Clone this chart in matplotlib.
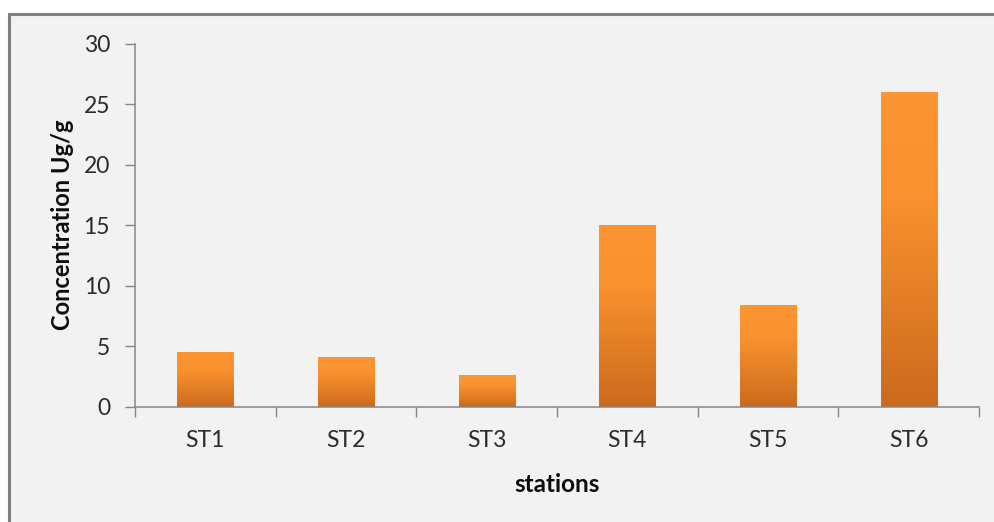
import numpy as np
import matplotlib.pyplot as plt
from matplotlib.colors import LinearSegmentedColormap
from matplotlib.patches import Rectangle

# Station concentrations (Ug/g)
stations = ["ST1", "ST2", "ST3", "ST4", "ST5", "ST6"]
concentration = [4.5, 4.1, 2.6, 15.0, 8.4, 26.0]
y_ticks = [0, 5, 10, 15, 20, 25, 30]

plt.rcParams['font.family'] = ['Lato', 'DejaVu Sans']

fig = plt.figure(figsize=(9.95, 5.22), dpi=100)
fig.patch.set_facecolor('white')

# grey chart-area frame, open to the right and bottom edges
top = 1 - 13.5 / 522
frame = Rectangle((8.5 / 995, -0.1), 1.2, top + 0.1,
                  transform=fig.transFigure, facecolor='#f2f2f2',
                  edgecolor='#7f7f7f', linewidth=2.2, zorder=-5)
fig.patches.append(frame)

ax = fig.add_axes([135 / 995, 1 - 406.5 / 522, (979 - 135) / 995, (406.5 - 44) / 522])
ax.set_facecolor('none')

x = np.arange(len(stations))
bars = ax.bar(x, concentration, width=0.4, color='none', edgecolor='none', zorder=2)

# vertical orange gradient inside each bar: lighter top, darker bottom
cmap = LinearSegmentedColormap.from_list('orange_grad', ['#cb6a1e', '#e27e25', '#f8912e', '#fc9633'])
grad = np.linspace(0, 1, 256).reshape(-1, 1)
for rect in bars:
    x0, w, h = rect.get_x(), rect.get_width(), rect.get_height()
    im = ax.imshow(grad, cmap=cmap, origin='lower', aspect='auto',
                   extent=(x0, x0 + w, 0, h), zorder=2)
    im.set_clip_path(rect)

ax.set_xlim(-0.5, len(stations) - 0.5)
ax.set_ylim(0, 30)
ax.set_yticks(y_ticks)
ax.set_xticks(x)
ax.set_xticklabels(stations)
# category boundary ticks on the x axis
ax.set_xticks(np.arange(len(stations) + 1) - 0.5, minor=True)
ax.tick_params(axis='x', which='major', length=0, pad=17)
ax.tick_params(axis='x', which='minor', length=7, width=1, color='#868686', direction='out')
ax.tick_params(axis='y', length=7, width=1, color='#868686', pad=11)
ax.tick_params(labelsize=16.5, labelcolor='#2b2b2b')

for side in ('top', 'right'):
    ax.spines[side].set_visible(False)
for side in ('left', 'bottom'):
    ax.spines[side].set_color('#868686')
    ax.spines[side].set_linewidth(1.1)

ax.set_xlabel('stations', fontsize=17.5, fontweight='bold', color='#0d0d0d', labelpad=16)
ax.set_ylabel('Concentration Ug/g', fontsize=17, fontweight='bold', color='#0d0d0d', labelpad=7)

fig.savefig('out.png', dpi=100, facecolor=fig.get_facecolor())
